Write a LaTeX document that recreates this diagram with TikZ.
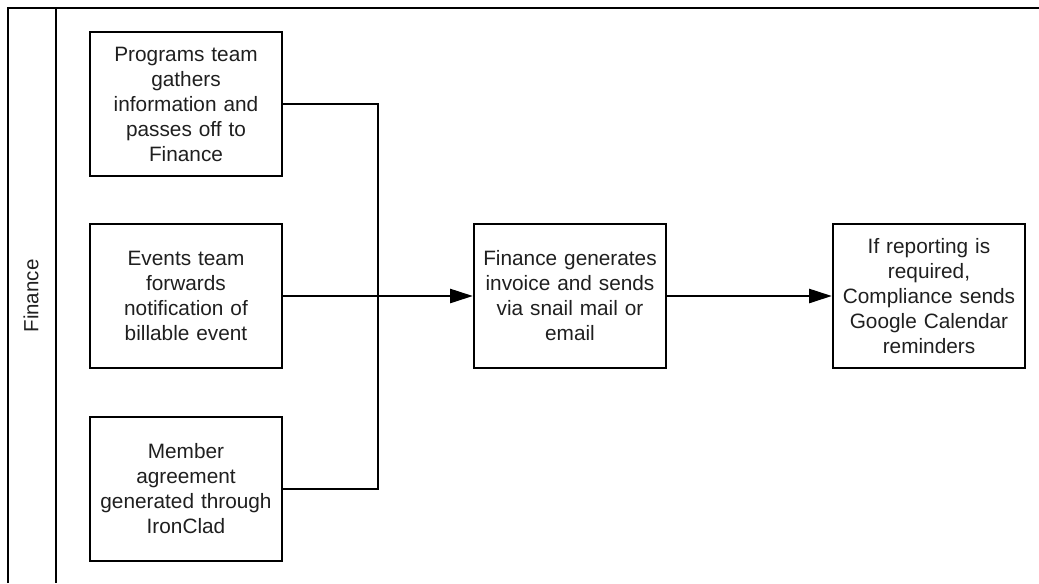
\documentclass[tikz,border=0pt]{standalone}
\usepackage{fontspec}
\setmainfont{Liberation Sans}
\usetikzlibrary{arrows.meta}
\begin{document}
\begin{tikzpicture}[x=0.75pt,y=-0.75pt,
  lane/.style={line width=1.7pt},
  stepbox/.style={draw, line width=1.7pt, text width=140pt, inner xsep=2pt,
    inner ysep=0pt, minimum height=108pt, align=center,
    font=\fontsize{15.6}{18.75}\selectfont, text=black!88},
  link/.style={line width=1.7pt},
  flow/.style={link, -{Triangle[length=17pt,width=10.5pt]}}]
  \useasboundingbox (0,0) rectangle (1039,583);

  % swimlane frame and its label column
  \draw[lane] (8,583) -- (8,8) -- (1039,8);
  \draw[lane] (56,8) -- (56,583);
  \node[rotate=90, font=\fontsize{15.4}{18}\selectfont, text=black!88] (lanelabel) at (31,296) {Finance};

  % process steps
  \node[stepbox] (programs) at (186,104) {Programs team\\gathers\\information and\\passes off to\\Finance};
  \node[stepbox] (events) at (186,296) {Events team\\forwards\\notification of\\billable event};
  \node[stepbox] (member) at (186,489) {Member\\agreement\\generated through\\IronClad};
  \node[stepbox] (invoice) at (570,296) {Finance generates\\invoice and sends\\via snail mail or\\email};
  \node[stepbox] (report) at (929,296) {If reporting is\\required,\\Compliance sends\\Google Calendar\\reminders};

  % connectors
  \coordinate (merge) at (378,296);
  \draw[link] (programs.east) -| (merge);
  \draw[link] (member.east) -| (merge);
  \draw[flow] (events.east) -- (invoice.west);
  \draw[flow] (invoice.east) -- (report.west);
\end{tikzpicture}
\end{document}
